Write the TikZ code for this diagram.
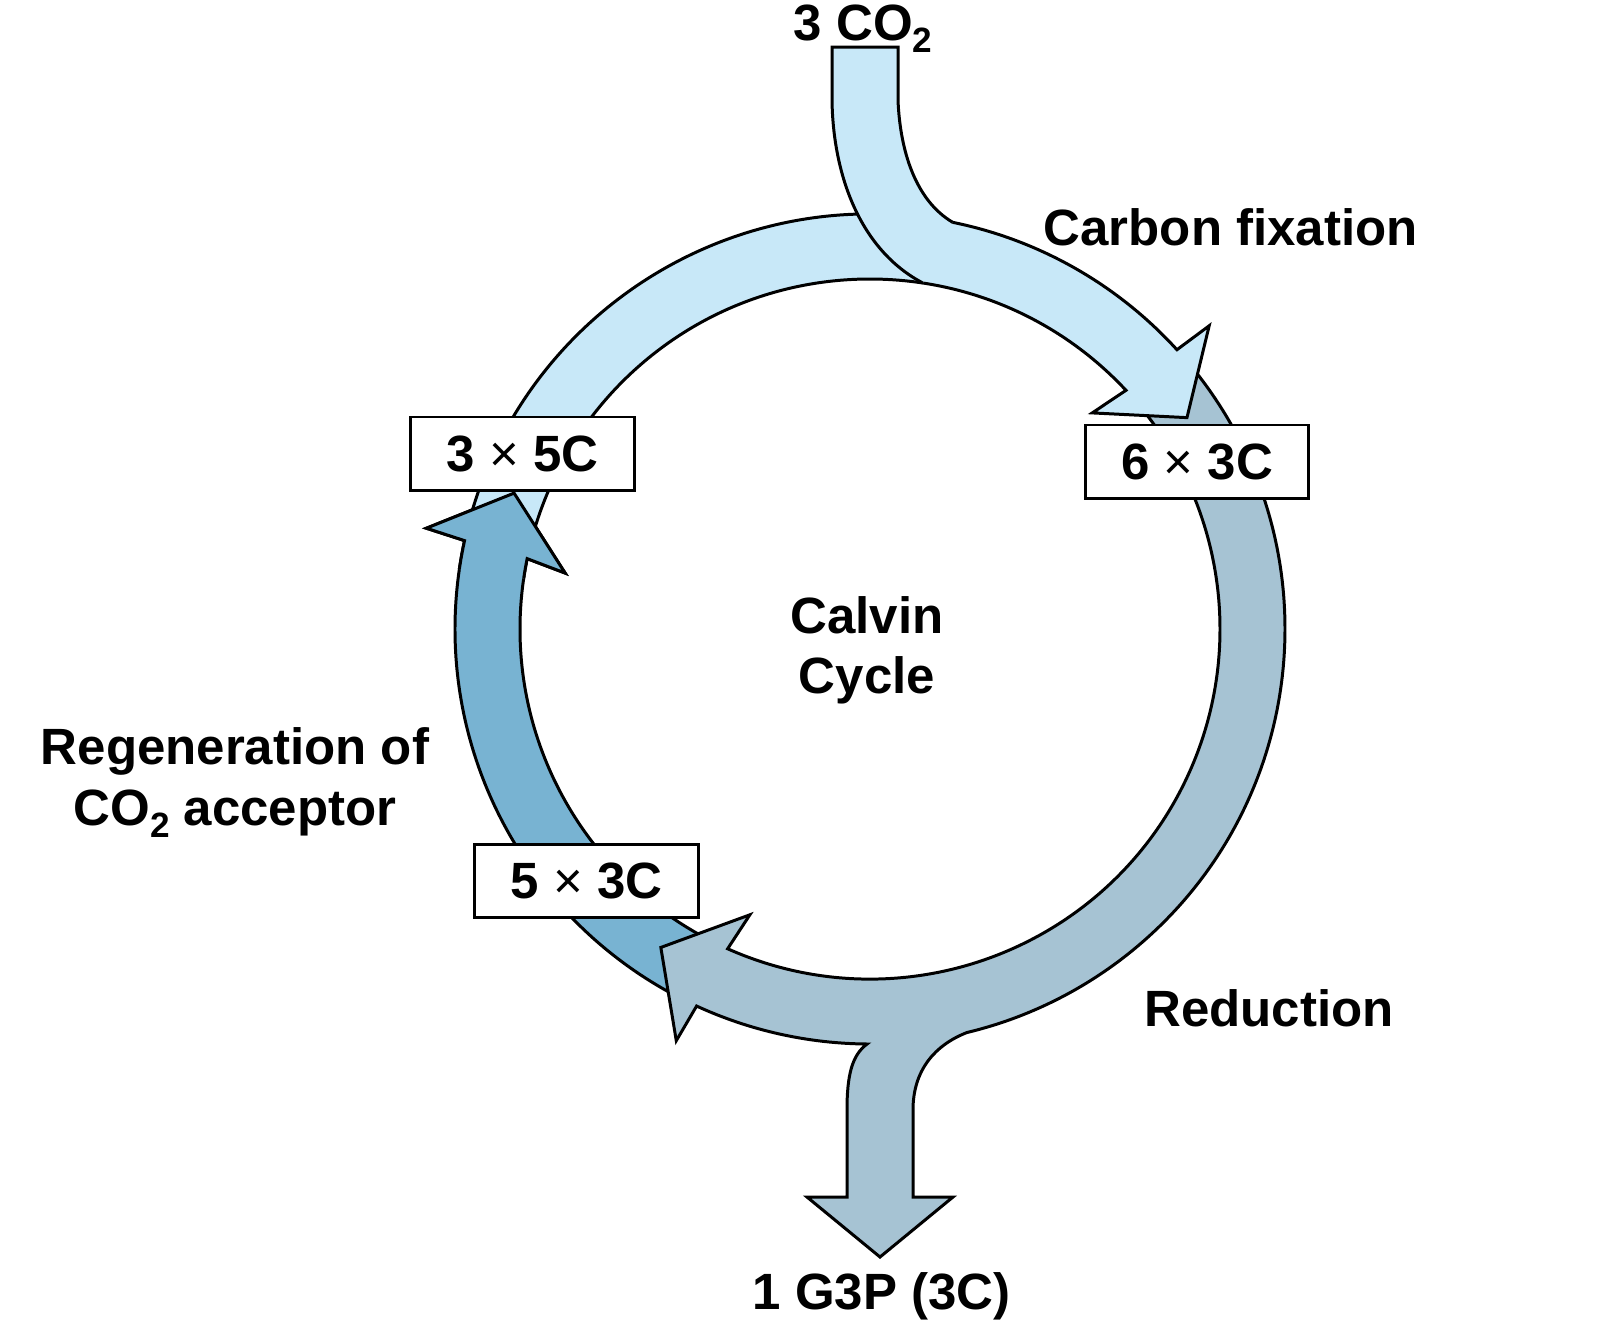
\documentclass[tikz,border=0pt]{standalone}
\usepackage{fontspec}
\setmainfont{Liberation Sans}
\definecolor{lightc}{HTML}{C8E8F8}
\definecolor{greyc}{HTML}{A6C3D3}
\definecolor{darkc}{HTML}{78B3D2}
\newcommand{\subtwo}{\raisebox{-3.5pt}{\fontsize{10}{10}\selectfont 2}}
\begin{document}
\begin{tikzpicture}[x=0.01cm,y=0.01cm,
  lbl/.style={font=\fontsize{14.5}{17.2}\selectfont\bfseries, inner sep=0pt},
  cbox/.style={draw=black, fill=white, line width=0.85pt, minimum width=2.23cm, minimum height=0.73cm, inner sep=0pt, font=\fontsize{14.5}{17.2}\selectfont\bfseries},
  ring/.style={draw=black, line width=0.85pt, line join=miter}]
\useasboundingbox (0,0) rectangle (1600,-1323);
\clip (0,0) rectangle (1600,-1323);
\fill[white] (0,0) rectangle (1600,-1323);
\begin{scope}[shift={(870,-629)}]
 % regeneration arc (dark)
 \path[ring, fill=darkc] (243:415) arc[start angle=243, end angle=167.7, radius=415] -- (167.2:455) -- (159.1:381) -- (169.6:310) -- (168.4:350) arc[start angle=168.4, end angle=243, radius=350] -- cycle;
 % reduction arc (grey) with G3P outlet
 \path[ring, fill=greyc] (40.5:415) arc[start angle=40.5, end angle=-76.5, radius=415]
   .. controls (65,-416) and (43,-441) .. (43,-481) -- (43,-568) -- (83,-568) -- (10,-628) -- (-63,-568) -- (-23,-568) -- (-23,-481)
   .. controls (-23,-446) and (-18,-426) .. (-90.4:415)
   arc[start angle=-90.4, end angle=-114.7, radius=415] -- (-115.2:455) -- (-123.3:381) -- (-112.8:310) -- (-114.0:350)
   arc[start angle=-114.0, end angle=40.5, radius=350] -- cycle;
 % carbon fixation arc (light)
 \path[ring, fill=lightc] (166:415) arc[start angle=166, end angle=42.3, radius=415] -- (41.8:455) -- (33.7:381) -- (44.2:310) -- (43.0:350) arc[start angle=43.0, end angle=166, radius=350] -- cycle;
 % CO2 inlet
 \path[ring, fill=lightc] (81.3:350) .. controls (-10,379) and (-37,454) .. (-38,529) -- (-38,582) -- (28,582) -- (28,529) .. controls (30,479) and (45,429) .. (78.5:415);
 % regeneration arrowhead on top
 \path[ring, fill=darkc] (171.7:415) arc[start angle=171.7, end angle=167.7, radius=415] -- (167.2:455) -- (159.1:381) -- (169.6:310) -- (168.4:350) arc[start angle=168.4, end angle=171.7, radius=350];
\end{scope}
\node[cbox] (b35) at (522.5,-453.5) {3 {\mdseries ×} 5C};
\node[cbox] (b63) at (1197,-461.5) {6 {\mdseries ×} 3C};
\node[cbox] (b53) at (586.5,-881) {5 {\mdseries ×} 3C};
\node[lbl, anchor=base west] (co2) at (793,-40) {3 CO\subtwo};
\node[lbl, anchor=base west] (cfix) at (1043,-245) {Carbon fixation};
\node[lbl, anchor=base] (calvin1) at (867,-633) {Calvin};
\node[lbl, anchor=base] (calvin2) at (867,-693) {Cycle};
\node[lbl, anchor=base] (regen1) at (235,-764) {Regeneration of};
\node[lbl, anchor=base] (regen2) at (235,-825) {CO\subtwo{} acceptor};
\node[lbl, anchor=base] (red) at (1269,-1026) {Reduction};
\node[lbl, anchor=base] (g3p) at (881.5,-1309) {1 G3P (3C)};
\end{tikzpicture}
\end{document}
